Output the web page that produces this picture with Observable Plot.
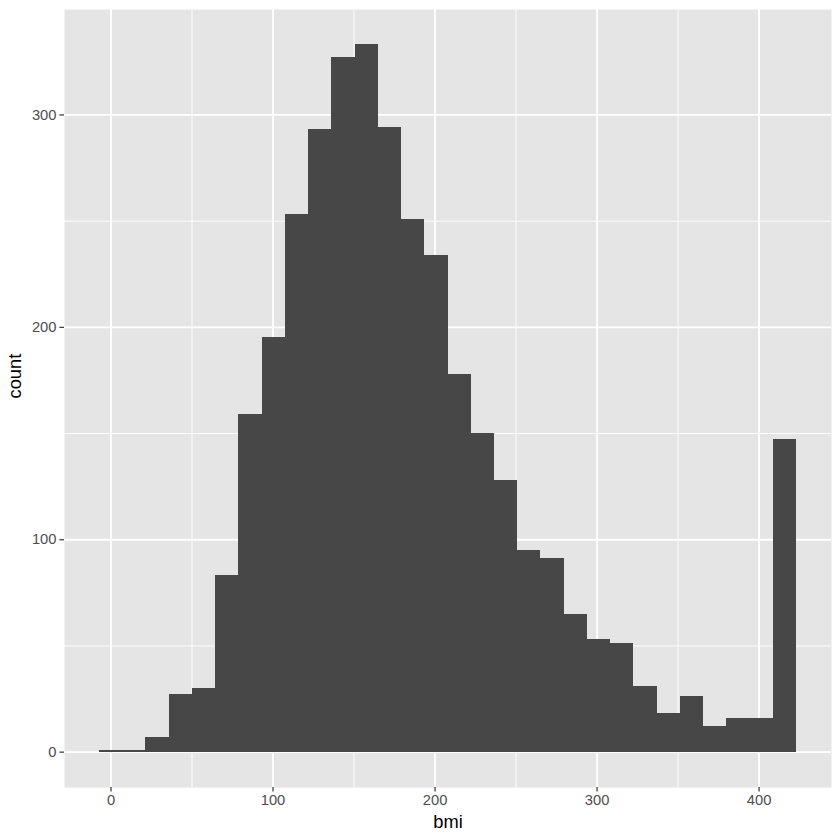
<!DOCTYPE html>
<html>
<head>
<meta charset="utf-8">
<script src="https://cdn.jsdelivr.net/npm/d3@7"></script>
<script src="https://cdn.jsdelivr.net/npm/@observablehq/plot@0.6"></script>
<style>
  html, body { margin: 0; padding: 0; background: #ffffff; }
  #chart { width: 840px; height: 840px; }
</style>
</head>
<body>
<div id="chart"></div>
<script>
// Histogram bin edges (bmi) and counts
const binStart = [-7.2, 7.2, 21.5, 35.9, 50.2, 64.6, 78.9, 93.2, 107.6, 121.9, 136.3, 150.6, 165.0, 179.3, 193.7, 208.0, 222.4, 236.7, 251.0, 265.4, 279.7, 294.1, 308.4, 322.8, 337.1, 351.5, 365.8, 380.2, 394.5, 408.8];
const binEnd   = [7.2, 21.5, 35.9, 50.2, 64.6, 78.9, 93.2, 107.6, 121.9, 136.3, 150.6, 165.0, 179.3, 193.7, 208.0, 222.4, 236.7, 251.0, 265.4, 279.7, 294.1, 308.4, 322.8, 337.1, 351.5, 365.8, 380.2, 394.5, 408.8, 423.2];
const counts   = [1, 1, 7, 27, 30, 83, 159, 195, 253, 293, 327, 333, 294, 251, 234, 178, 150, 128, 95, 91, 65, 53, 51, 31, 18, 26, 12, 16, 16, 147];

const xMajor = [0, 100, 200, 300, 400];
const xMinor = [50, 150, 250, 350];
const yMajor = [0, 100, 200, 300];
const yMinor = [50, 150, 250];
const xTitle = "bmi";
const yTitle = "count";

const bins = counts.map((c, i) => ({x1: binStart[i], x2: binEnd[i], count: c}));

const font = "'Liberation Sans', Arial, Helvetica, sans-serif";
const gridColor = "#ffffff";
const barColor = "#474747";

const chart = Plot.plot({
  width: 840,
  height: 840,
  marginLeft: 64,
  marginRight: 9,
  marginTop: 9,
  marginBottom: 53,
  style: {fontFamily: font, background: "#ffffff"},
  x: {domain: [-28.7, 444.7]},
  y: {domain: [-16.65, 349.65]},
  marks: [
    Plot.frame({fill: "#E5E5E5", stroke: null}),
    Plot.ruleX(xMinor, {stroke: gridColor, strokeWidth: 0.9}),
    Plot.ruleY(yMinor, {stroke: gridColor, strokeWidth: 0.9}),
    Plot.ruleX(xMajor, {stroke: gridColor, strokeWidth: 1.8}),
    Plot.ruleY(yMajor, {stroke: gridColor, strokeWidth: 1.8}),
    Plot.rectY(bins, {x1: "x1", x2: "x2", y1: 0, y2: "count", fill: barColor, insetLeft: 0, insetRight: 0, shapeRendering: "crispEdges"}),
    Plot.axisX({ticks: xMajor, tickSize: 4.6, tickPadding: 2, tickFormat: d => String(d), fontSize: 14.7, color: "#4D4D4D", stroke: "#333333", strokeWidth: 1.2, label: null}),
    Plot.axisY({ticks: yMajor, tickSize: 4.6, tickPadding: 3.5, tickFormat: d => String(d), fontSize: 14.7, color: "#4D4D4D", stroke: "#333333", strokeWidth: 1.2, label: null}),
    Plot.text([xTitle], {frameAnchor: "bottom", dy: 35, lineAnchor: "middle", text: d => d, fontSize: 18.3, fill: "#000000"}),
    Plot.text([yTitle], {frameAnchor: "left", dx: -49, rotate: -90, lineAnchor: "middle", text: d => d, fontSize: 18.3, fill: "#000000"})
  ]
});

document.getElementById("chart").appendChild(chart);
</script>
</body>
</html>
